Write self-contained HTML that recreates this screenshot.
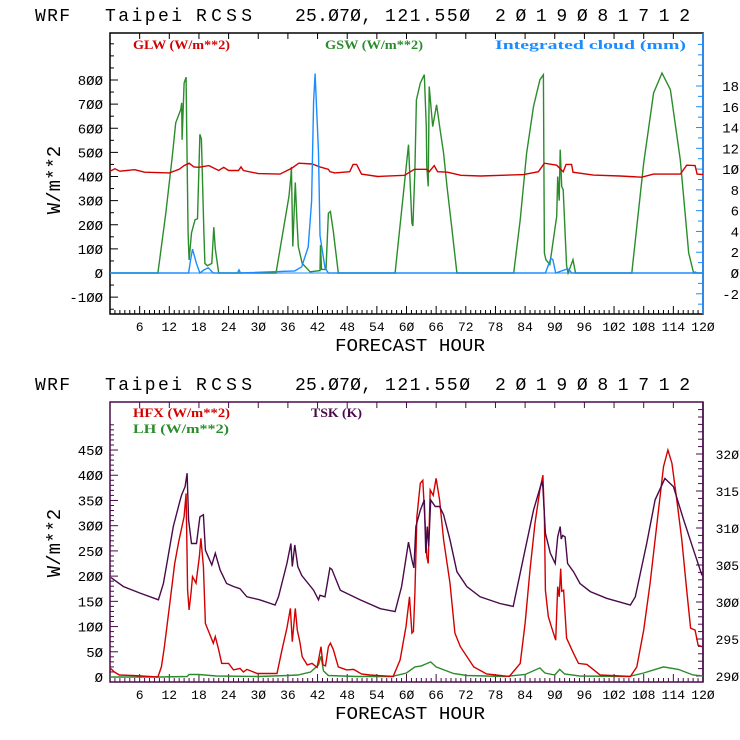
<!DOCTYPE html>
<html><head><meta charset="utf-8"><style>
html,body{margin:0;padding:0;background:#fff;}
svg{display:block;}
.t{font-family:"Liberation Mono","DejaVu Sans Mono",monospace;}
.lg{font-family:"Liberation Serif",serif;font-weight:bold;font-size:13px;}
</style></head><body>
<svg id="c" width="740" height="740" xmlns="http://www.w3.org/2000/svg"></svg>
<script>
// ---------- data: top panel ----------
const gswHours = [0,9.7,11.3,12.6,13.3,14.3,14.5,14.6,15.0,15.4,15.5,15.8,16.0,16.5,17.2,17.7,18.2,18.5,19.0,19.2,19.7,20.6,21.0,21.3,22.0,33.6,36.2,36.6,36.7,37.0,37.5,37.8,38.1,38.9,40.5,42.5,42.6,42.8,43.7,44.2,44.6,45.2,46.2,57.7,60.4,61.1,61.3,61.7,62.0,62.8,63.6,64.0,64.1,64.4,64.6,65.3,66.1,66.8,67.5,68.2,69.2,70.2,81.7,83.0,84.3,85.7,87.0,87.7,87.9,88.2,89.0,90.4,90.6,90.9,91.1,91.4,91.7,92.1,92.4,92.7,93.7,94.2,105.6,108.0,110.0,111.7,113.4,115.4,117.1,118.1,120];
const gswValues = [0,0,248,484,622,677,705,552,787,812,628,166,54,166,220,225,575,555,166,40,30,40,190,100,0,0,316,400,440,110,375,230,110,40,5,10,116,15,15,248,255,170,0,0,532,207,195,427,717,787,822,607,442,359,773,607,697,594,496,359,180,0,0,220,496,690,801,822,83,55,35,235,400,300,511,359,345,166,30,0,55,0,0,456,746,829,760,469,83,0,0];
const glwHours = [0,1,2,5,7,12,14,15,16,17,18,20,22,23,24,26,26.5,27,30,34.4,36.8,38.2,40.9,42.5,44.2,44.5,45.5,48.5,49.2,49.9,50.9,54.2,59.6,61.6,64.0,64.6,65.6,66.3,68.3,71.0,75,83.7,86.7,87.9,90.4,91.7,92.3,93.4,93.7,97.8,103.2,107.6,110,115.4,116.7,118.4,118.8,120];
const glwValues = [422,432,422,428,418,415,430,445,455,440,438,445,425,438,425,425,440,425,412,410,435,455,452,440,430,420,415,420,450,450,410,400,405,430,430,420,445,420,418,405,402,408,420,455,447,420,450,450,418,406,402,397,410,410,447,445,410,408];
const cloudHours = [0,15.9,16.3,16.7,17.5,18.2,19.0,19.9,20.9,25.8,26.1,26.4,37.4,38.8,40.1,40.8,41.2,41.5,42.2,42.5,43.5,44.2,88.1,89.2,89.6,90.2,92.6,93.1,93.4,118.0,118.4,118.9,120];
const cloudValues = [0,0,1.2,2.3,0.9,0,0.3,0.5,0,0,0.3,0,0.2,0.6,2.5,6.9,16.5,19.2,11.6,3.6,0.5,0,0,1.4,1.3,0,0.4,0.2,0,0,0.1,0,0];
// ---------- data: bottom panel ----------
const tskHours = [0.2,2.7,6.1,9.8,10.8,12.8,14.2,14.5,15.2,15.6,15.9,16.5,17.5,18.2,18.9,19.3,20.6,21.3,22.3,23.6,25.0,26.3,27.7,30.3,33.4,34.1,35.8,36.6,36.9,37.4,38.0,38.8,41.2,42.2,42.5,43.5,44.5,44.9,46.6,50.6,54.7,57.7,59.0,60.4,61.1,61.5,61.9,62.8,63.6,63.9,64.2,64.5,64.9,65.8,66.7,67.5,68.8,70.2,72.2,74.9,78.9,81.6,83.7,85.7,87.4,87.6,88.1,89.1,90.1,90.6,91.1,91.3,91.6,92.1,92.6,93.8,95.1,97.2,100.5,105.3,106.3,108.6,110.3,112.3,114.0,116.0,118.1,119.8];
const tskValues = [303.3,302.1,301.2,300.3,302.5,310.2,313.8,314.5,315.6,317.4,311.1,307.9,307.9,311.5,311.8,307,305,306.6,304.3,302.5,302.1,301.8,300.7,300.3,299.6,300.7,305.2,307.9,304.8,307.7,304.8,303.6,301.6,300.3,300.9,300.7,304.6,304.4,301.6,300.3,299.1,298.7,302.1,308.1,305.7,304.6,310.2,312.4,313.8,306.6,310.2,307.5,313.8,312.9,312.9,311.8,308.4,304.1,302.1,300.7,299.8,299.4,306.1,312.4,316.3,315.5,309.3,306.6,305.2,308.8,310.2,308.5,309,308.8,305.2,304.1,302.5,301.4,300.5,299.6,300.7,307.9,313.8,316.7,315.6,311.3,307,303.6];
const hfxHours = [0.1,0.9,1.9,4.6,9.7,10.4,11.0,12.1,13.1,13.9,15.0,15.4,15.7,16.0,16.4,16.7,17.4,18.1,18.4,18.9,19.3,20.1,20.9,21.3,22.0,22.6,24,25.0,26.3,27.0,27.7,29.8,33.8,34.8,35.8,36.5,36.9,37.5,37.9,38.4,38.9,39.9,40.9,41.9,42.7,43.1,43.6,44.2,44.6,45.2,46.2,47.9,49.3,50.9,52.6,57.3,58.7,59.9,60.6,61.1,61.4,61.7,62.1,62.8,63.3,63.8,64.1,64.4,64.8,65.4,66.0,66.7,67.5,68.8,69.8,70.9,73.6,76.2,80.8,83.0,84.0,85.0,86.0,87.0,87.6,87.9,88.1,88.7,89.4,90.2,90.6,90.9,91.2,91.4,91.8,92.4,93.8,94.8,96.5,99.2,105.3,106.6,108.0,109.3,110.7,112.0,112.9,113.7,114.7,115.7,116.7,117.5,118.4,119.0,119.8];
const hfxValues = [17,10,4,3,0,20,60,146,225,268,318,364,172,133,166,199,186,239,275,219,106,87,67,80,54,27,27,14,17,10,15,7,7,54,97,136,70,136,93,70,40,24,27,19,60,24,22,60,67,54,20,14,15,6,4,1,34,100,159,87,90,166,318,384,390,298,239,225,371,360,394,351,272,186,87,60,20,6,1,27,106,212,305,371,400,318,172,120,97,73,179,159,215,170,172,77,47,27,25,4,1,20,93,186,305,417,450,424,351,272,172,97,93,63,60];
const lhHours = [0,10,15.6,16,18,21.5,30,36,38,40.6,42.2,42.7,43.2,44.2,50,57,60,61.7,63,64.9,66,69.5,72.2,80,84,87,88,90,91,92,95,105,108,112,115,118,120];
const lhValues = [0,0,1,5,5,2,1,3,4,10,24,41,12,3,1,1,8,20,22,30,20,7,3,1,5,18,8,4,15,6,2,1,8,20,15,4,2];
const xTicks = [6,12,18,24,30,36,42,48,54,60,66,72,78,84,90,96,102,108,114,120];
const topLeftTicks = [-100,0,100,200,300,400,500,600,700,800];
const topRightTicks = [-2,0,2,4,6,8,10,12,14,16,18];
const botLeftTicks = [0,50,100,150,200,250,300,350,400,450];
const botRightTicks = [290,295,300,305,310,315,320];

const NS='http://www.w3.org/2000/svg';
const svgRoot=document.getElementById('c');
const RED='#d40000',GREEN='#2a8c2a',BLUE='#1a8cff',PURP='#4a0a4a';
function mk(tag,attrs,parent){const e=document.createElementNS(NS,tag);for(const k in attrs)e.setAttribute(k,attrs[k]);(parent||svgRoot).appendChild(e);return e;}
function txt(s,x,y,attrs,parent){const e=mk('text',Object.assign({x:x,y:y},attrs),parent);e.textContent=s;return e;}
function fmt(v){return String(v).replace(/0/g,'Ø');}

const X0=110,X1=703;
function xs(h){return X0+h*(X1-X0)/120;}

function drawTitle(y,g){
  const parts=[['WRF',35,35],['Taipei',105,77],['RCSS',196,56],['25.070,',295,77],['121.550',385,85],['2019081712',495,195]];
  parts.forEach(p=>{txt(fmt(p[0]),p[1],y,{class:'t','font-size':18,textLength:p[2],lengthAdjust:'spacing',fill:'#000'},g);});
}

function panel(cfg){
  const g=mk('g',{});
  
  
  const tg=mk('g',{},g);
  
  
  drawTitle(cfg.titleY,tg);
  const pt=cfg.pTop,pb=cfg.pBot;
  const ly=v=>cfg.y0+v*cfg.ky;
  const fr=mk('rect',{x:X0,y:pt,width:X1-X0,height:pb-pt,fill:'none',stroke:cfg.frame,'stroke-width':1.5},g);
  
  
  const xa=mk('g',{},g);
  
  
  for(let h=1;h<120;h++){const x=xs(h);const L=h%6===0?8:4;
    mk('line',{x1:x,x2:x,y1:pb,y2:pb-L,stroke:cfg.frame,'stroke-width':1},xa);
    if(h%6===0) mk('line',{x1:x,x2:x,y1:pt,y2:pt+6,stroke:cfg.frame,'stroke-width':1},xa);}
  xTicks.forEach(h=>{txt(fmt(h),xs(h),pb+17,{class:'t','font-size':13,'text-anchor':'middle',fill:'#000'},xa);});
  const xl=txt('FORECAST HOUR',410,pb+37,{class:'t','font-size':18,'text-anchor':'middle',fill:'#000',textLength:150,lengthAdjust:'spacingAndGlyphs'},g);
  
  
  const la=mk('g',{},g);
  
  
  for(let v=cfg.lMin;v<=cfg.lMax;v+=cfg.lMinor){const y=ly(v);if(y<pt||y>pb)continue;
    const major=cfg.lTicks.includes(v);mk('line',{x1:X0,x2:X0+(major?8:4),y1:y,y2:y,stroke:cfg.frame,'stroke-width':1},la);}
  cfg.lTicks.forEach(v=>{txt(fmt(v),103,ly(v)+5,{class:'t','font-size':14,'text-anchor':'end',fill:'#000'},la);});
  const yt=txt('W/m**2',0,0,{class:'t','font-size':19,'text-anchor':'middle',fill:'#000',transform:`translate(${cfg.yLabX},${cfg.yLabY}) rotate(-90)`},g);
  
  
  const ra=mk('g',{},g);
  
  
  mk('line',{x1:X1,x2:X1,y1:pt,y2:pb,stroke:cfg.rColor,'stroke-width':1.5},ra);
  for(let v=cfg.rMin;v<=cfg.rMax;v+=1){const y=cfg.ry(v);if(y<pt+2||y>pb)continue;
    mk('line',{x1:X1,x2:X1-(cfg.rTicks.includes(v)?7:5),y1:y,y2:y,stroke:cfg.rColor,'stroke-width':1},ra);}
  cfg.rTicks.forEach(v=>{txt(fmt(v),X1+36,cfg.ry(v)+5,{class:'t','font-size':cfg.rFont,'text-anchor':'end',fill:'#000'},ra);});
  return {g:g,ly:ly};
}
function series(g,name,hours,vals,yf,color){
  const n=Math.min(hours.length,vals.length);
  let d='';
  for(let i=0;i<n;i++) d+=(i?'L':'M')+xs(hours[i]).toFixed(1)+','+yf(vals[i]).toFixed(1);
  const p=mk('path',{d:d,fill:'none',stroke:color,'stroke-width':1.4},g);
  
  
}
function legend(g,name,s,x,y,w,color){
  const t=txt(s,x,y,{class:'lg',fill:color,textLength:w,lengthAdjust:'spacingAndGlyphs'},g);
  
  
}

const topPanel=panel({name:'radiation-panel',titleY:21,pTop:33,pBot:314,y0:273,ky:-0.24125,frame:'#000',
  lMin:-150,lMax:1000,lMinor:50,lTicks:topLeftTicks,yLabX:60,yLabY:180,
  rColor:BLUE,rMin:-3,rMax:22,rTicks:topRightTicks,ry:v=>273-v*10.39,rFont:14});
mk('line',{x1:X0,x2:X1,y1:273,y2:273,stroke:BLUE,'stroke-width':1},topPanel.g);
series(topPanel.g,'gsw-line',gswHours,gswValues,topPanel.ly,GREEN);
series(topPanel.g,'glw-line',glwHours,glwValues,topPanel.ly,RED);
series(topPanel.g,'cloud-line',cloudHours,cloudValues,v=>273-v*10.39,BLUE);
legend(topPanel.g,'legend-glw','GLW (W/m**2)',133,49,97,RED);
legend(topPanel.g,'legend-gsw','GSW (W/m**2)',325,49,98,GREEN);
legend(topPanel.g,'legend-cloud','Integrated cloud (mm)',495,49,191,BLUE);

const botPanel=panel({name:'flux-panel',titleY:390,pTop:402,pBot:682,y0:677,ky:-0.5044,frame:PURP,
  lMin:0,lMax:500,lMinor:10,lTicks:botLeftTicks,yLabX:60,yLabY:543,
  rColor:PURP,rMin:290,rMax:327,rTicks:botRightTicks,ry:v=>676-(v-290)*7.4,rFont:13});
series(botPanel.g,'lh-line',lhHours,lhValues,botPanel.ly,GREEN);
series(botPanel.g,'hfx-line',hfxHours,hfxValues,botPanel.ly,RED);
series(botPanel.g,'tsk-line',tskHours,tskValues,v=>676-(v-290)*7.4,PURP);
legend(botPanel.g,'legend-hfx','HFX (W/m**2)',133,417,97,RED);
legend(botPanel.g,'legend-lh','LH  (W/m**2)',133,433,96,GREEN);
legend(botPanel.g,'legend-tsk','TSK (K)',311,417,51,PURP);
</script>
</body></html>
